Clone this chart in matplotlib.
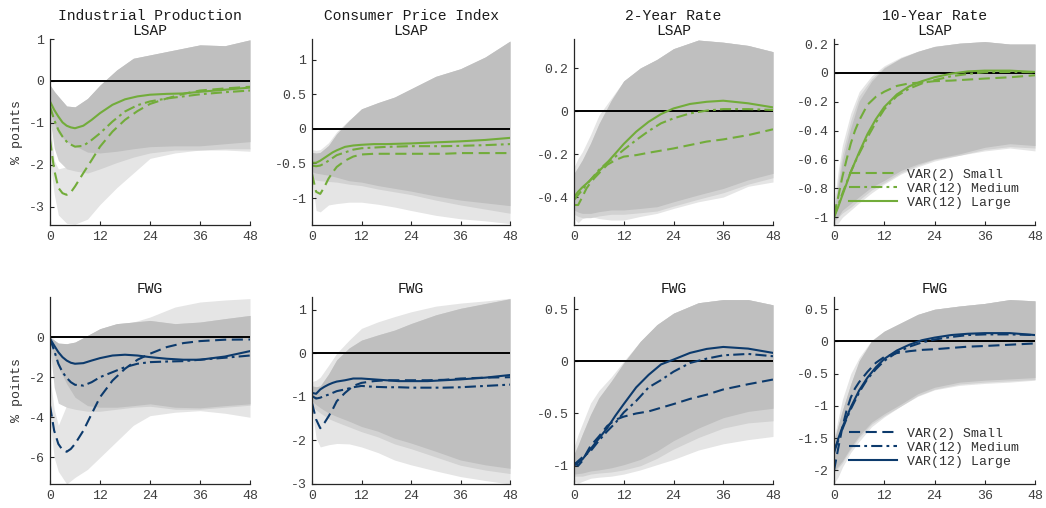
import matplotlib
matplotlib.use("Agg")
import matplotlib.pyplot as plt
from matplotlib.ticker import FormatStrFormatter

plt.rcParams['font.family'] = ['Liberation Mono', 'DejaVu Sans Mono']
plt.rcParams['axes.unicode_minus'] = False
plt.rcParams['lines.scale_dashes'] = False

H = [0, 1, 2, 3, 4, 5, 6, 8, 10, 12, 15, 18, 21, 24, 28, 32, 36, 42, 48]
HB = [0, 1, 2, 4, 6, 9, 12, 16, 20, 24, 30, 36, 42, 48]

labels = ['VAR(2) Small', 'VAR(12) Medium', 'VAR(12) Large']

# --- Industrial Production, LSAP ---
ip_lsap_small = [-1.4, -2.12, -2.55, -2.68, -2.72, -2.66, -2.52, -2.2, -1.89, -1.57, -1.21, -0.93, -0.72, -0.55, -0.42, -0.31, -0.23, -0.18, -0.14]
ip_lsap_medium = [-0.61, -0.93, -1.17, -1.33, -1.45, -1.52, -1.57, -1.55, -1.41, -1.25, -0.97, -0.73, -0.58, -0.49, -0.42, -0.37, -0.32, -0.27, -0.23]
ip_lsap_large = [-0.49, -0.69, -0.85, -0.99, -1.07, -1.11, -1.13, -1.07, -0.93, -0.77, -0.57, -0.44, -0.37, -0.33, -0.31, -0.3, -0.26, -0.21, -0.16]
ip_lsap_dark_hi = [-0.1, -0.25, -0.37, -0.6, -0.62, -0.42, -0.1, 0.26, 0.54, 0.62, 0.74, 0.86, 0.84, 0.98]
ip_lsap_dark_lo = [-0.7, -1.0, -1.25, -1.45, -1.55, -1.7, -1.72, -1.68, -1.62, -1.57, -1.55, -1.55, -1.5, -1.45]
ip_lsap_mid_hi = ip_lsap_dark_hi
ip_lsap_mid_lo = [-0.9, -1.6, -1.9, -2.1, -2.15, -2.2, -2.1, -1.95, -1.82, -1.72, -1.65, -1.65, -1.62, -1.62]
ip_lsap_light_hi = [-0.9, -1.9, -2.1, -2.05, -1.9, -1.8, -1.7, -1.6, -1.6, -1.6, -1.6, -1.6, -1.6, -1.6]
ip_lsap_light_lo = [-1.9, -2.7, -3.2, -3.4, -3.42, -3.3, -2.95, -2.55, -2.2, -1.85, -1.72, -1.65, -1.65, -1.68]

# --- Consumer Price Index, LSAP ---
cpi_lsap_small = [-0.65, -0.91, -0.94, -0.84, -0.72, -0.63, -0.55, -0.46, -0.4, -0.37, -0.36, -0.36, -0.36, -0.36, -0.36, -0.36, -0.35, -0.35, -0.35]
cpi_lsap_medium = [-0.53, -0.54, -0.53, -0.5, -0.46, -0.42, -0.38, -0.34, -0.3, -0.28, -0.27, -0.26, -0.255, -0.25, -0.25, -0.25, -0.245, -0.235, -0.22]
cpi_lsap_large = [-0.49, -0.49, -0.46, -0.42, -0.38, -0.34, -0.31, -0.26, -0.24, -0.23, -0.22, -0.22, -0.215, -0.21, -0.2, -0.19, -0.18, -0.16, -0.13]
cpi_lsap_dark_hi = [-0.34, -0.35, -0.34, -0.24, -0.07, 0.12, 0.29, 0.38, 0.46, 0.58, 0.76, 0.87, 1.04, 1.27]
cpi_lsap_dark_lo = [-0.62, -0.64, -0.65, -0.67, -0.7, -0.75, -0.77, -0.82, -0.86, -0.9, -0.97, -1.03, -1.07, -1.11]
cpi_lsap_mid_hi = cpi_lsap_dark_hi
cpi_lsap_mid_lo = [-0.7, -0.74, -0.75, -0.76, -0.77, -0.8, -0.82, -0.87, -0.91, -0.95, -1.03, -1.1, -1.16, -1.22]
cpi_lsap_light_hi = [-0.3, -0.31, -0.3, -0.2, -0.04, 0.13, 0.28, 0.37, 0.45, 0.57, 0.75, 0.86, 1.03, 1.26]
cpi_lsap_light_lo = [-0.75, -1.18, -1.2, -1.1, -1.08, -1.06, -1.06, -1.09, -1.13, -1.18, -1.25, -1.3, -1.33, -1.37]

# --- 2-Year Rate, LSAP ---
y2_lsap_small = [-0.437, -0.437, -0.4, -0.36, -0.333, -0.31, -0.29, -0.25, -0.228, -0.212, -0.205, -0.194, -0.184, -0.174, -0.158, -0.142, -0.132, -0.112, -0.085]
y2_lsap_medium = [-0.414, -0.39, -0.367, -0.343, -0.32, -0.297, -0.274, -0.24, -0.212, -0.18, -0.135, -0.093, -0.057, -0.034, -0.011, 0.002, 0.009, 0.009, 0.005]
y2_lsap_large = [-0.4, -0.375, -0.355, -0.338, -0.32, -0.3, -0.28, -0.24, -0.197, -0.153, -0.096, -0.05, -0.014, 0.012, 0.033, 0.043, 0.048, 0.036, 0.017]
y2_lsap_dark_hi = [-0.29, -0.26, -0.228, -0.15, -0.06, 0.05, 0.14, 0.2, 0.24, 0.29, 0.33, 0.32, 0.305, 0.276]
y2_lsap_dark_lo = [-0.46, -0.47, -0.476, -0.476, -0.468, -0.46, -0.46, -0.453, -0.445, -0.422, -0.39, -0.36, -0.32, -0.29]
y2_lsap_mid_hi = y2_lsap_dark_hi
y2_lsap_mid_lo = [-0.48, -0.49, -0.496, -0.496, -0.488, -0.48, -0.48, -0.473, -0.465, -0.442, -0.41, -0.38, -0.34, -0.31]
y2_lsap_light_hi = [-0.26, -0.22, -0.19, -0.11, -0.02, 0.06, 0.14, 0.2, 0.24, 0.29, 0.33, 0.32, 0.305, 0.276]
y2_lsap_light_lo = [-0.5, -0.52, -0.5, -0.49, -0.5, -0.507, -0.507, -0.49, -0.476, -0.453, -0.422, -0.4, -0.35, -0.33]

# --- 10-Year Rate, LSAP ---
y10_lsap_small = [-0.984, -0.86, -0.72, -0.6, -0.49, -0.4, -0.33, -0.22, -0.165, -0.13, -0.09, -0.072, -0.066, -0.057, -0.053, -0.046, -0.039, -0.03, -0.016]
y10_lsap_medium = [-1.0, -0.915, -0.835, -0.76, -0.686, -0.62, -0.56, -0.446, -0.343, -0.252, -0.16, -0.108, -0.073, -0.05, -0.023, -0.007, 0.005, 0.007, 0.005]
y10_lsap_large = [-1.0, -0.927, -0.847, -0.767, -0.686, -0.618, -0.55, -0.423, -0.32, -0.236, -0.149, -0.092, -0.057, -0.03, -0.005, 0.011, 0.016, 0.016, 0.007]
y10_lsap_dark_hi = [-0.97, -0.79, -0.61, -0.38, -0.195, -0.057, 0.034, 0.103, 0.149, 0.183, 0.206, 0.217, 0.2, 0.2]
y10_lsap_dark_lo = [-1.02, -0.995, -0.95, -0.904, -0.858, -0.79, -0.744, -0.675, -0.63, -0.595, -0.56, -0.515, -0.49, -0.503]
y10_lsap_mid_hi = [-0.95, -0.74, -0.56, -0.33, -0.16, -0.04, 0.04, 0.103, 0.149, 0.183, 0.206, 0.217, 0.2, 0.2]
y10_lsap_mid_lo = [-1.03, -1.0, -0.97, -0.93, -0.88, -0.81, -0.76, -0.69, -0.64, -0.6, -0.57, -0.53, -0.51, -0.52]
y10_lsap_light_hi = [-0.9, -0.68, -0.5, -0.28, -0.13, -0.02, 0.05, 0.11, 0.15, 0.185, 0.206, 0.217, 0.2, 0.2]
y10_lsap_light_lo = [-1.05, -1.04, -1.0, -0.95, -0.9, -0.83, -0.77, -0.7, -0.65, -0.61, -0.57, -0.54, -0.52, -0.54]

# --- Industrial Production, FWG ---
ip_fwg_small = [-3.42, -4.67, -5.33, -5.63, -5.72, -5.58, -5.33, -4.67, -3.83, -3.0, -2.17, -1.58, -1.13, -0.83, -0.5, -0.3, -0.2, -0.13, -0.12]
ip_fwg_medium = [-0.08, -0.67, -1.33, -1.75, -2.03, -2.25, -2.38, -2.42, -2.25, -2.0, -1.75, -1.5, -1.33, -1.25, -1.22, -1.2, -1.13, -1.03, -0.92]
ip_fwg_large = [-0.08, -0.42, -0.75, -1.0, -1.17, -1.28, -1.33, -1.3, -1.17, -1.05, -0.92, -0.88, -0.92, -1.0, -1.08, -1.13, -1.13, -0.97, -0.7]
ip_fwg_dark_hi = [0.0, -0.15, -0.3, -0.33, -0.25, 0.08, 0.42, 0.67, 0.75, 0.83, 0.67, 0.75, 0.92, 1.08]
ip_fwg_dark_lo = [-0.17, -0.9, -1.5, -2.33, -3.0, -3.42, -3.5, -3.5, -3.42, -3.33, -3.5, -3.53, -3.42, -3.33]
ip_fwg_mid_hi = ip_fwg_dark_hi
ip_fwg_mid_lo = [-0.5, -2.5, -3.3, -3.5, -3.6, -3.7, -3.7, -3.6, -3.5, -3.45, -3.6, -3.6, -3.5, -3.4]
ip_fwg_light_hi = [-2.0, -3.6, -4.4, -3.4, -2.5, -1.5, 0.0, 0.5, 0.75, 1.0, 1.5, 1.75, 1.85, 1.92]
ip_fwg_light_lo = [-4.2, -6.0, -6.7, -7.33, -7.0, -6.6, -6.0, -5.2, -4.4, -3.92, -3.75, -3.67, -3.8, -4.0]

# --- Consumer Price Index, FWG ---
cpi_fwg_small = [-1.14, -1.52, -1.72, -1.6, -1.45, -1.29, -1.1, -0.91, -0.75, -0.68, -0.64, -0.62, -0.62, -0.62, -0.62, -0.61, -0.58, -0.56, -0.55]
cpi_fwg_medium = [-0.98, -1.04, -1.02, -0.98, -0.95, -0.91, -0.87, -0.83, -0.78, -0.75, -0.77, -0.78, -0.78, -0.79, -0.79, -0.79, -0.78, -0.75, -0.72]
cpi_fwg_large = [-0.91, -0.93, -0.83, -0.77, -0.72, -0.68, -0.65, -0.62, -0.58, -0.58, -0.6, -0.62, -0.64, -0.64, -0.64, -0.62, -0.6, -0.56, -0.5]
cpi_fwg_dark_hi = [-0.75, -0.77, -0.75, -0.48, -0.15, 0.12, 0.3, 0.42, 0.53, 0.68, 0.88, 1.03, 1.14, 1.25]
cpi_fwg_dark_lo = [-1.1, -1.18, -1.25, -1.37, -1.45, -1.56, -1.68, -1.79, -1.95, -2.06, -2.25, -2.45, -2.56, -2.64]
cpi_fwg_mid_hi = cpi_fwg_dark_hi
cpi_fwg_mid_lo = [-1.2, -1.3, -1.37, -1.5, -1.58, -1.69, -1.8, -1.92, -2.08, -2.19, -2.38, -2.57, -2.68, -2.76]
cpi_fwg_light_hi = [-0.65, -0.62, -0.55, -0.28, 0.0, 0.3, 0.57, 0.72, 0.84, 0.95, 1.08, 1.15, 1.2, 1.26]
cpi_fwg_light_lo = [-1.3, -1.95, -2.15, -2.1, -2.07, -2.08, -2.15, -2.28, -2.45, -2.56, -2.7, -2.83, -2.92, -3.0]

# --- 2-Year Rate, FWG ---
y2_fwg_small = [-0.97, -1.0, -0.955, -0.88, -0.81, -0.765, -0.72, -0.62, -0.56, -0.53, -0.5, -0.48, -0.445, -0.41, -0.36, -0.32, -0.27, -0.22, -0.175]
y2_fwg_medium = [-0.99, -0.955, -0.92, -0.89, -0.86, -0.81, -0.76, -0.67, -0.59, -0.49, -0.38, -0.25, -0.18, -0.1, -0.016, 0.025, 0.057, 0.07, 0.048]
y2_fwg_large = [-1.0, -0.97, -0.94, -0.89, -0.84, -0.79, -0.74, -0.64, -0.52, -0.41, -0.25, -0.13, -0.03, 0.016, 0.08, 0.118, 0.137, 0.121, 0.08]
y2_fwg_dark_hi = [-0.89, -0.8, -0.7, -0.51, -0.35, -0.19, -0.016, 0.19, 0.35, 0.46, 0.56, 0.59, 0.59, 0.54]
y2_fwg_dark_lo = [-1.08, -1.075, -1.07, -1.05, -1.04, -1.02, -0.99, -0.94, -0.86, -0.76, -0.64, -0.54, -0.48, -0.45]
y2_fwg_mid_hi = y2_fwg_dark_hi
y2_fwg_mid_lo = [-1.1, -1.1, -1.1, -1.08, -1.07, -1.06, -1.04, -1.0, -0.93, -0.84, -0.73, -0.64, -0.59, -0.57]
y2_fwg_light_hi = [-0.82, -0.7, -0.6, -0.4, -0.28, -0.15, 0.0, 0.19, 0.35, 0.46, 0.56, 0.59, 0.59, 0.54]
y2_fwg_light_lo = [-1.15, -1.17, -1.15, -1.12, -1.11, -1.1, -1.08, -1.04, -0.99, -0.94, -0.85, -0.79, -0.75, -0.72]

# --- 10-Year Rate, FWG ---
y10_fwg_small = [-2.0, -1.66, -1.33, -1.07, -0.87, -0.73, -0.63, -0.47, -0.33, -0.24, -0.18, -0.15, -0.13, -0.12, -0.1, -0.08, -0.07, -0.05, -0.03]
y10_fwg_medium = [-1.69, -1.54, -1.36, -1.2, -1.05, -0.92, -0.79, -0.58, -0.43, -0.3, -0.17, -0.08, -0.015, 0.03, 0.07, 0.1, 0.11, 0.11, 0.1]
y10_fwg_large = [-1.73, -1.51, -1.33, -1.18, -1.02, -0.89, -0.76, -0.56, -0.4, -0.27, -0.14, -0.05, 0.02, 0.06, 0.1, 0.12, 0.13, 0.13, 0.1]
y10_fwg_dark_hi = [-1.54, -1.3, -1.07, -0.66, -0.3, 0.01, 0.16, 0.29, 0.42, 0.5, 0.55, 0.59, 0.65, 0.63]
y10_fwg_dark_lo = [-2.0, -1.93, -1.85, -1.64, -1.46, -1.25, -1.12, -0.97, -0.81, -0.71, -0.63, -0.6, -0.58, -0.56]
y10_fwg_mid_hi = y10_fwg_dark_hi
y10_fwg_mid_lo = [-2.03, -1.96, -1.88, -1.67, -1.49, -1.28, -1.15, -1.0, -0.84, -0.74, -0.66, -0.63, -0.61, -0.59]
y10_fwg_light_hi = [-1.5, -1.2, -0.9, -0.5, -0.25, 0.02, 0.16, 0.29, 0.42, 0.5, 0.55, 0.59, 0.65, 0.63]
y10_fwg_light_lo = [-2.2, -2.1, -1.95, -1.72, -1.55, -1.32, -1.17, -1.0, -0.85, -0.75, -0.68, -0.65, -0.63, -0.6]

green = '#72ac3a'
navy = '#0c3a6c'
c_dark, c_mid, c_light = '#bfbfbf', '#d2d2d2', '#e5e5e5'

panels = [
    ('Industrial Production\nLSAP', green, (-3.44, 1.0), [-3, -2, -1, 0, 1],
     ip_lsap_small, ip_lsap_medium, ip_lsap_large,
     ip_lsap_light_hi, ip_lsap_light_lo, ip_lsap_mid_hi, ip_lsap_mid_lo, ip_lsap_dark_hi, ip_lsap_dark_lo),
    ('Consumer Price Index\nLSAP', green, (-1.39, 1.30), [-1, -0.5, 0, 0.5, 1],
     cpi_lsap_small, cpi_lsap_medium, cpi_lsap_large,
     cpi_lsap_light_hi, cpi_lsap_light_lo, cpi_lsap_mid_hi, cpi_lsap_mid_lo, cpi_lsap_dark_hi, cpi_lsap_dark_lo),
    ('2-Year Rate\nLSAP', green, (-0.53, 0.335), [-0.4, -0.2, 0, 0.2],
     y2_lsap_small, y2_lsap_medium, y2_lsap_large,
     y2_lsap_light_hi, y2_lsap_light_lo, y2_lsap_mid_hi, y2_lsap_mid_lo, y2_lsap_dark_hi, y2_lsap_dark_lo),
    ('10-Year Rate\nLSAP', green, (-1.053, 0.235), [-1, -0.8, -0.6, -0.4, -0.2, 0, 0.2],
     y10_lsap_small, y10_lsap_medium, y10_lsap_large,
     y10_lsap_light_hi, y10_lsap_light_lo, y10_lsap_mid_hi, y10_lsap_mid_lo, y10_lsap_dark_hi, y10_lsap_dark_lo),
    ('FWG', navy, (-7.33, 2.0), [-6, -4, -2, 0],
     ip_fwg_small, ip_fwg_medium, ip_fwg_large,
     ip_fwg_light_hi, ip_fwg_light_lo, ip_fwg_mid_hi, ip_fwg_mid_lo, ip_fwg_dark_hi, ip_fwg_dark_lo),
    ('FWG', navy, (-3.0, 1.29), [-3, -2, -1, 0, 1],
     cpi_fwg_small, cpi_fwg_medium, cpi_fwg_large,
     cpi_fwg_light_hi, cpi_fwg_light_lo, cpi_fwg_mid_hi, cpi_fwg_mid_lo, cpi_fwg_dark_hi, cpi_fwg_dark_lo),
    ('FWG', navy, (-1.175, 0.615), [-1, -0.5, 0, 0.5],
     y2_fwg_small, y2_fwg_medium, y2_fwg_large,
     y2_fwg_light_hi, y2_fwg_light_lo, y2_fwg_mid_hi, y2_fwg_mid_lo, y2_fwg_dark_hi, y2_fwg_dark_lo),
    ('FWG', navy, (-2.21, 0.69), [-2, -1.5, -1, -0.5, 0, 0.5],
     y10_fwg_small, y10_fwg_medium, y10_fwg_large,
     y10_fwg_light_hi, y10_fwg_light_lo, y10_fwg_mid_hi, y10_fwg_mid_lo, y10_fwg_dark_hi, y10_fwg_dark_lo),
]

W, Hpx = 1046, 508
lefts = [50, 312, 574, 834]
widths = [200, 198, 199, 201]
rows = [(39, 225), (297, 484)]

fig = plt.figure(figsize=(W / 100, Hpx / 100), dpi=100)

dash_small = (0, (8, 4))
dash_medium = (0, (8, 3, 2, 3))

for k, p in enumerate(panels):
    title, col, ylim, yt, sm, md, lg, lhi, llo, mhi, mlo, dhi, dlo = p
    r, c = divmod(k, 4)
    top, bot = rows[r]
    ax = fig.add_axes([lefts[c] / W, (Hpx - bot) / Hpx, widths[c] / W, (bot - top) / Hpx])

    ax.fill_between(HB, llo, lhi, color=c_light, lw=0)
    ax.fill_between(HB, mlo, mhi, color=c_mid, lw=0)
    ax.fill_between(HB, dlo, dhi, color=c_dark, lw=0)
    ax.axhline(0, color='black', lw=1.4)

    ax.plot(H, sm, color=col, lw=1.5, linestyle=dash_small, label=labels[0])
    ax.plot(H, md, color=col, lw=1.5, linestyle=dash_medium, label=labels[1])
    ax.plot(H, lg, color=col, lw=1.5, label=labels[2])

    ax.set_xlim(0, 48)
    ax.set_ylim(*ylim)
    ax.set_xticks([0, 12, 24, 36, 48])
    ax.set_yticks(yt)
    ax.yaxis.set_major_formatter(FormatStrFormatter('%g'))
    for s in ['top', 'right']:
        ax.spines[s].set_visible(False)
    for s in ['left', 'bottom']:
        ax.spines[s].set_color('#262626')
        ax.spines[s].set_linewidth(0.9)
    ax.tick_params(direction='in', length=3, width=0.8, labelsize=9.5,
                   colors='#262626', labelcolor='#404040', pad=4)
    ax.set_title(title, fontsize=10.5, pad=3, linespacing=1.05, color='#1a1a1a')
    if c == 0:
        ax.set_ylabel('% points', fontsize=9.5, color='#333333', labelpad=4)
    if c == 3:
        ax.legend(frameon=False, fontsize=9.5, loc='lower left',
                  bbox_to_anchor=(0.05, 0.06), handlelength=3.6,
                  handletextpad=0.8, labelspacing=0.12, borderaxespad=0,
                  labelcolor='#333333')

fig.savefig('out.png', dpi=100)
